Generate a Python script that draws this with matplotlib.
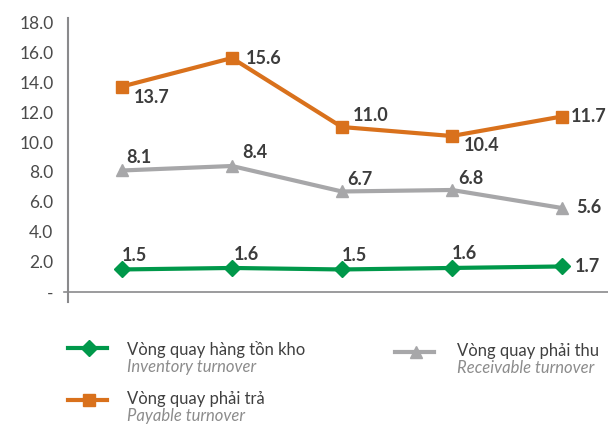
import matplotlib.pyplot as plt

# data
periods = [0, 1, 2, 3, 4]
inventory = [1.5, 1.6, 1.5, 1.6, 1.7]
payable = [13.7, 15.6, 11.0, 10.4, 11.7]
receivable = [8.1, 8.4, 6.7, 6.8, 5.6]
yticks = [0, 2, 4, 6, 8, 10, 12, 14, 16, 18]
ytick_labels = ["-", "2.0", "4.0", "6.0", "8.0", "10.0", "12.0", "14.0", "16.0", "18.0"]

GREEN = "#00984A"
ORANGE = "#D9711C"
GREY = "#A7A7A9"
TXT = "#3C3C3C"
FONT = "Lato"

plt.rcParams["font.family"] = [FONT, "DejaVu Sans"]

fig = plt.figure(figsize=(6.08, 4.24), dpi=100)
ax = fig.add_axes([68 / 608, 1 - 302 / 424, 540 / 608, 284 / 424])

ax.plot(periods, inventory, color=GREEN, lw=3, marker="D", ms=8, zorder=3)
ax.plot(periods, payable, color=ORANGE, lw=3, marker="s", ms=8, zorder=3)
ax.plot(periods, receivable, color=GREY, lw=3, marker="^", ms=9, zorder=3)

ax.set_xlim(-0.49, 4.42)
ax.set_ylim(-0.67, 18.27)
ax.set_yticks(yticks)
ax.set_yticklabels(ytick_labels)
ax.set_xticks([])
ax.tick_params(axis="y", length=0, pad=10.5, labelsize=12.5, labelcolor="#4A4A4A")
for s in ["top", "right", "bottom"]:
    ax.spines[s].set_visible(False)
ax.spines["left"].set_color("#8A8A8C")
ax.spines["left"].set_linewidth(1.5)
ax.plot([-0.53, 4.42], [0, 0], color="#8A8A8C", lw=1.2, clip_on=False, zorder=1)

lab = dict(fontsize=13, fontweight="bold", color=TXT, ha="left", va="center")

# label offsets in pixels (dx, dy up)
inv_off = [(0, 14), (2, 13), (0, 14), (0, 14), (13, 0)]
pay_off = [(12, -11), (14, 0), (11, 12), (12, -9), (9, 0)]
rec_off = [(4, 13), (10, 13), (5, 12), (6, 11), (14, 0)]

def annotate(vals, offs):
    for x, v, (dx, dy) in zip(periods, vals, offs):
        ax.annotate(f"{v:.1f}", (x, v), xytext=(dx * 0.72, dy * 0.72),
                    textcoords="offset points", **lab)

annotate(inventory, inv_off)
annotate(payable, pay_off)
annotate(receivable, rec_off)

# legend drawn in pixel coordinates
lg = fig.add_axes([0, 0, 1, 1], zorder=-1)
lg.set_xlim(0, 608)
lg.set_ylim(424, 0)
lg.axis("off")

items = [
    (68, 348, 127, GREEN, "D", 8, "Vòng quay hàng tồn kho", "Inventory turnover"),
    (68, 400, 127, ORANGE, "s", 8, "Vòng quay phải trả", "Payable turnover"),
    (395, 352, 457, GREY, "^", 9, "Vòng quay phải thu", "Receivable turnover"),
]
for x0, y0, xt, c, m, ms, vn, en in items:
    lg.plot([x0, x0 + 39], [y0, y0], color=c, lw=3)
    lg.plot([x0 + 21], [y0], marker=m, color=c, ms=ms)
    ty = y0 + 2 if y0 < 350 else y0 - 1
    lg.text(xt, ty, vn, fontsize=12, color="#404040", va="center", ha="left")
    lg.text(xt, ty + 17, en, fontsize=12, color="#8C8C8C", style="italic",
            va="center", ha="left")

fig.savefig("out.png", dpi=100)
